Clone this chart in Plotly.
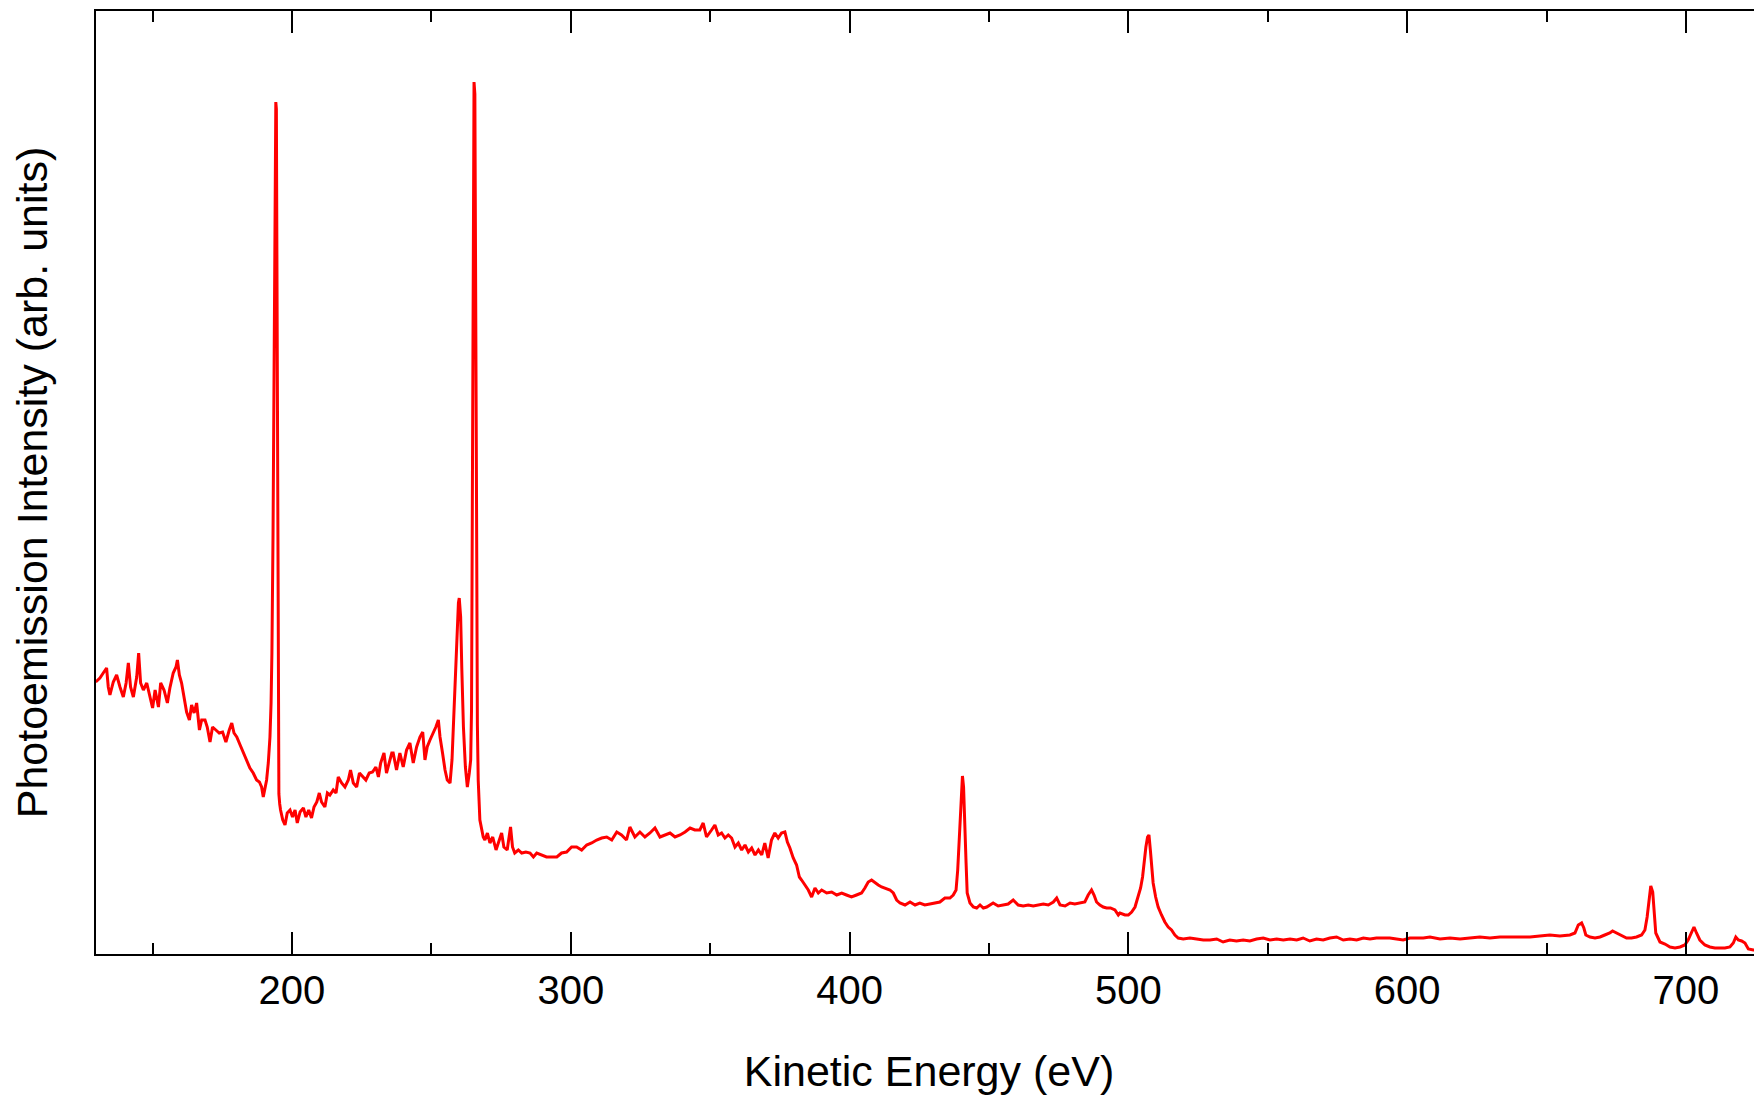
import plotly.graph_objects as go

# Kinetic energy (eV) and photoemission intensity (arb. units)
energy_ev = [
    129.6, 131.1, 132.3, 133.5, 134.1, 134.7, 135.9, 137.1, 138.3, 139.5, 140.5, 141.3, 142.1, 143.1,
    144.3, 145.0, 145.7, 146.7, 147.9, 149.1, 150.0, 150.9, 152.1, 152.9, 154.1, 155.3, 156.2, 157.4,
    158.4, 158.9, 159.6, 160.4, 161.3, 162.2, 163.2, 164.0, 164.9, 165.8, 166.8, 167.6, 168.8, 169.6,
    170.6, 171.5, 172.7, 173.9, 175.1, 176.3, 177.5, 178.4, 179.2, 180.2, 181.4, 182.6, 183.7, 184.9,
    186.1, 187.3, 188.3, 189.1, 189.7, 190.3, 190.9, 191.5, 192.1, 192.5,
    192.8, 193.2, 193.6, 193.9, 194.2, 194.4, 194.6, 194.8, 195.0, 195.3, 195.6,
    195.9, 196.7, 197.5, 198.3, 199.3, 200.2, 201.1, 201.9, 202.9, 204.1, 205.0, 206.0, 207.0, 207.9,
    208.9, 209.8, 210.6, 211.8, 212.7, 213.6, 214.8, 215.8, 216.6, 217.8, 219.0, 220.2, 221.0, 222.0,
    223.2, 224.2, 225.4, 226.5, 227.7, 228.9, 230.1, 231.0, 231.8, 233.0, 233.9, 234.9, 235.8,
    236.3, 237.5, 238.7, 239.9, 241.1, 242.3, 243.5, 244.7, 245.9, 246.9, 247.7, 248.5, 249.5, 250.7,
    251.6, 252.5, 253.1, 254.0, 254.9, 255.7, 256.7, 257.4, 258.1, 258.6, 259.1, 259.7, 260.0, 260.5,
    260.9, 261.5, 262.2, 262.9, 263.6, 264.1, 264.4, 264.7, 265.0, 265.3, 265.6, 265.9, 266.2, 266.5,
    266.8, 267.4, 268.6, 269.2, 270.1, 271.0, 272.0, 273.2, 274.4, 275.2, 276.0, 277.2, 278.4, 279.1,
    279.9, 281.2, 282.4, 283.9, 285.4, 286.6, 287.8, 289.5, 291.3, 293.1, 295.0, 296.7, 298.5, 300.3,
    302.1, 303.9, 305.7, 307.5, 309.3, 311.1, 312.9, 314.7, 316.5, 318.2, 320.0, 321.2, 323.0, 324.8,
    326.6, 328.4, 330.2, 332.0, 333.8, 335.6, 337.4, 339.2, 341.0, 342.8, 344.5,
    346.3, 347.5, 348.7, 350.5, 351.7, 352.9, 354.1, 355.3, 356.5, 357.7, 358.9, 360.1, 361.3, 362.5,
    363.7, 364.9, 366.1, 367.3, 368.5, 369.6, 370.8, 372.0, 373.2, 374.4, 375.6, 376.8, 377.7, 378.6,
    379.8, 381.0, 382.0, 382.8, 384.0, 385.2, 386.4, 387.6, 388.8, 390.0, 391.8, 393.6, 395.4, 397.2,
    398.9, 400.7, 402.5, 404.3, 405.5, 406.7, 407.9, 409.1, 410.3, 411.5, 412.7, 414.5, 415.7, 416.9,
    418.1, 419.9, 421.7, 423.5, 425.2, 427.0, 428.8, 430.6, 432.4, 434.2, 436.0, 437.2, 438.2, 438.8,
    439.2, 439.7, 440.2, 440.5, 440.9, 441.4, 441.8, 442.2, 443.2, 444.4, 445.6, 446.8, 448.0, 449.2,
    450.4, 451.5, 453.3, 455.1, 456.9, 458.7, 460.5, 462.3, 464.1, 465.9, 467.7, 469.5, 471.3, 473.1,
    474.3, 475.5, 477.3, 479.1, 480.8, 482.6, 484.4, 485.6, 486.8, 487.7, 488.6, 489.8, 491.0, 492.2,
    493.6, 495.2, 496.4,
    497.0, 498.8, 500.0, 501.2, 502.4, 503.6, 504.4, 505.1, 505.7, 506.3, 506.9, 507.4, 507.9, 508.3,
    508.9, 509.8, 510.7, 511.9, 513.1, 514.3, 515.5, 516.7, 517.9, 519.7, 522.1, 524.5, 526.9, 529.3,
    531.7, 534.0, 536.4, 538.8, 541.2, 543.6, 546.0, 548.4, 550.8, 553.2, 555.6, 558.0, 560.4, 562.7,
    565.1, 567.5, 569.9, 572.3, 574.7, 577.1, 579.5, 581.9, 584.3, 586.7, 589.0, 591.4, 593.8, 596.2,
    598.6, 601.0, 603.4, 605.8, 608.2,
    611.8, 615.4, 619.0, 622.5, 626.1, 629.7, 633.3, 636.9, 640.5, 644.1, 647.6, 651.2, 654.8, 658.4,
    660.2, 661.4, 662.6, 663.4, 664.1, 665.6, 667.4, 669.2, 670.9, 672.7, 673.7, 675.1, 676.9, 678.7,
    680.5, 682.3, 684.1, 685.3, 686.1, 686.9, 687.4, 688.1, 688.5, 689.2, 690.7, 692.5, 694.3, 696.1,
    697.9, 699.6, 700.8, 702.0, 702.9, 703.8, 705.0, 706.8, 708.6, 710.4, 712.2, 714.0, 715.8, 717.0,
    717.9, 718.8, 720.0, 721.2, 722.4, 724.2, 726.0, 727.3,
]

intensity = [
    272, 276, 281, 286, 267, 259, 272, 279, 267, 257, 271, 291, 267, 257,
    277, 301, 271, 264, 271, 257, 246, 264, 247, 271, 264, 251, 266, 281,
    287, 294, 279, 271, 257, 242, 234, 249, 241, 251, 224, 234, 234, 227,
    212, 227, 224, 221, 222, 212, 224, 231, 221, 217, 209, 201, 194, 186,
    181, 174, 172, 167, 157, 164, 174, 191, 217, 251,
    301, 420, 620, 800, 852, 845, 700, 450, 260, 160, 150,
    144, 134, 129, 141, 144, 137, 144, 131, 142, 146, 137, 144, 136, 147,
    152, 161, 152, 147, 161, 159, 164, 161, 177, 171, 167, 174, 184, 171,
    167, 181, 177, 174, 181, 182, 187, 177, 191, 201, 181, 191, 201,
    201, 184, 201, 187, 204, 211, 191, 207, 217, 222, 194, 207, 214, 221,
    227, 234, 217, 201, 184, 174, 171, 194, 244, 287, 327, 351, 356, 337,
    287, 227, 187, 167, 181, 194, 244, 450, 750, 872, 860, 700, 450, 230,
    174, 134, 117, 114, 121, 111, 117, 104, 114, 121, 107, 104, 127, 107,
    101, 104, 101, 102, 101, 97, 101, 99, 97, 97, 97, 101, 102, 107,
    107, 104, 109, 111, 114, 116, 117, 114, 122, 119, 114, 127, 117, 122,
    117, 121, 126, 117, 119, 121, 117, 119, 122, 126, 124,
    124, 131, 117, 124, 129, 119, 121, 116, 119, 116, 107, 111, 104, 109,
    102, 106, 99, 104, 99, 111, 96, 114, 121, 116, 121, 122, 112, 106,
    96, 89, 77, 74, 69, 64, 57, 66, 61, 64, 61, 62, 59, 61,
    59, 57, 59, 61, 66, 72, 74, 71, 69, 67, 66, 64, 61, 54,
    51, 49, 52, 49, 51, 49, 50, 51, 52, 56, 56, 59, 64, 84,
    107, 141, 167, 178, 167, 134, 91, 61, 51, 47, 46, 49, 46, 47,
    49, 51, 48, 49, 50, 54, 49, 48, 49, 48, 49, 50, 49, 52,
    56, 49, 48, 51, 50, 51, 52, 59, 64, 59, 52, 49, 47, 46,
    46, 44, 39,
    41, 39, 39, 42, 47, 59, 66, 77, 94, 107, 117, 119, 104, 87,
    71, 57, 47, 39, 32, 27, 24, 19, 16, 15, 16, 15, 14, 14,
    15, 12, 14, 13, 14, 13, 15, 16, 14, 15, 14, 15, 14, 16,
    13, 15, 14, 16, 17, 14, 15, 14, 16, 15, 16, 16, 16, 15,
    14, 16, 16, 16, 17,
    15, 16, 15, 16, 17, 16, 17, 17, 17, 17, 18, 19, 18, 19,
    21, 29, 31, 26, 19, 17, 16, 17, 19, 21, 23, 21, 18, 16,
    16, 17, 19, 24, 37, 54, 68, 62, 44, 21, 12, 10, 7, 6,
    7, 9, 14, 22, 27, 21, 14, 9, 7, 6, 6, 6, 7, 11,
    17, 14, 13, 11, 5, 4, 4, 4,
]

x_range = [129.7, 727.3]
y_range = [0, 943]
x_tick_values = [200, 300, 400, 500, 600, 700]
x_tick_labels = ["200", "300", "400", "500", "600", "700"]
x_minor_values = [150, 250, 350, 450, 550, 650]

fig = go.Figure()
fig.add_trace(go.Scatter(
    x=energy_ev, y=intensity, mode="lines",
    line=dict(color="#ff0000", width=3),
    showlegend=False, hoverinfo="skip",
))

font_family = "Liberation Sans, Arial, sans-serif"

# the page body has an 8px default margin, so the figure is offset by 8px
fig.update_layout(
    width=1754, height=1089,
    margin=dict(l=88, r=0, t=3, b=143, pad=0),
    paper_bgcolor="white", plot_bgcolor="white",
    font=dict(family=font_family, color="black"),
    showlegend=False,
)

fig.update_xaxes(
    range=x_range,
    tickmode="array", tickvals=x_tick_values, ticktext=x_tick_labels,
    ticks="inside", ticklen=22, tickwidth=2, tickcolor="black",
    minor=dict(tickmode="array", tickvals=x_minor_values,
               ticks="inside", ticklen=11, tickwidth=2, tickcolor="black", showgrid=False),
    showline=True, linewidth=2, linecolor="black", mirror="ticks",
    showgrid=False, zeroline=False,
    tickfont=dict(size=40, family=font_family, color="black"),
    title=dict(text="Kinetic Energy (eV)", font=dict(size=43, family=font_family, color="black"),
               standoff=45),
)

fig.update_yaxes(
    range=y_range,
    showticklabels=False, ticks="",
    showline=True, linewidth=2, linecolor="black", mirror=False,
    showgrid=False, zeroline=False,
    title=dict(text="Photoemission Intensity (arb. units)",
               font=dict(size=43, family=font_family, color="black"), standoff=33),
)

fig.write_html("out.html")
